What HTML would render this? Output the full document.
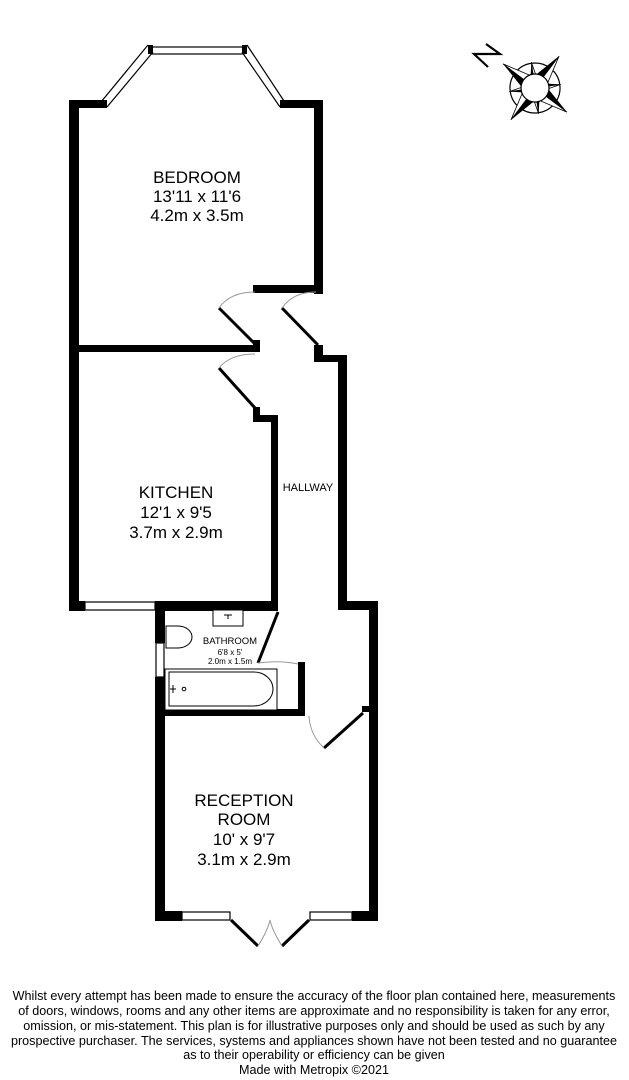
<!DOCTYPE html>
<html><head><meta charset="utf-8"><style>
html,body{margin:0;padding:0;background:#fff;}
svg{display:block}
text{font-family:"Liberation Sans",Arial,sans-serif;fill:#000}
</style></head><body>
<svg width="629" height="1080" viewBox="0 0 629 1080" xmlns="http://www.w3.org/2000/svg">
<defs>
<g id="pt"><polygon points="40,0 0,0 8,-8" fill="#000"/><polygon points="40,0 0,0 8,8" fill="#fff" stroke="#000" stroke-width="0.8"/></g>
<g id="sp"><polygon points="26,0 0,0 6,-4" fill="#000"/><polygon points="26,0 0,0 6,4" fill="#fff" stroke="#000" stroke-width="0.8"/></g>
</defs>
<g fill="#000">
<rect x="69" y="100" width="10" height="510"/>
<rect x="69" y="100" width="35" height="8"/>
<rect x="284" y="100" width="39" height="8"/>
<rect x="314" y="100" width="9" height="194"/>
<rect x="253" y="285" width="70" height="8"/>
<rect x="69" y="345" width="190" height="7"/>
<rect x="253" y="340" width="7" height="12"/>
<rect x="314" y="345" width="9" height="17"/>
<rect x="314" y="355" width="33" height="7"/>
<rect x="338" y="355" width="9" height="255"/>
<rect x="338" y="601" width="40" height="9"/>
<rect x="369" y="601" width="9" height="105"/>
<rect x="362" y="706" width="16" height="6"/>
<rect x="369" y="706" width="9" height="214"/>
<rect x="253" y="407" width="7" height="15"/>
<rect x="253" y="415" width="25" height="7"/>
<rect x="271" y="415" width="7" height="195"/>
<rect x="69" y="601" width="16" height="10"/>
<rect x="155" y="601" width="123" height="10"/>
<rect x="155" y="601" width="10" height="42"/>
<rect x="155" y="677" width="10" height="243"/>
<rect x="157" y="709" width="148" height="7"/>
<rect x="298" y="662" width="7" height="54"/>
<rect x="155" y="911" width="27" height="10"/>
<rect x="352" y="911" width="26" height="10"/>
</g>
<g fill="#fff" stroke="#000" stroke-width="1.2">
<rect x="85" y="602" width="70" height="8"/>
<rect x="156" y="643" width="8" height="34"/>
<rect x="182" y="912" width="48" height="8"/>
<rect x="310" y="912" width="42" height="8"/>
<rect x="152" y="47" width="92" height="7"/>
</g>
<g stroke="#000" stroke-width="1.2" fill="none">
<line x1="101" y1="102" x2="148" y2="45"/>
<line x1="107" y1="107" x2="153" y2="52"/>
<line x1="247" y1="45" x2="284" y2="101"/>
<line x1="242" y1="52" x2="280" y2="107"/>
</g>
<g fill="#000"><rect x="148" y="45" width="5" height="9"/><rect x="242" y="45" width="5" height="9"/><rect x="100" y="100" width="7" height="8"/><rect x="280" y="100" width="7" height="8"/></g>
<g stroke="#000" stroke-width="3" fill="none">
<line x1="219" y1="308" x2="255" y2="344"/>
<line x1="282" y1="308" x2="318" y2="345"/>
<line x1="219" y1="368" x2="255" y2="408"/>
<line x1="278" y1="612" x2="258" y2="663"/>
<line x1="363" y1="713" x2="324" y2="748"/>
<line x1="231" y1="920" x2="258" y2="946"/>
<line x1="309" y1="920" x2="282" y2="946"/>
</g>
<g stroke="#999" stroke-width="1" fill="none">
<path d="M219 308 Q230 292 255 292"/>
<path d="M282 308 Q293 292 316 292"/>
<path d="M219 368 Q230 354 255 354"/>
<path d="M258 663 Q280 660 298 664"/>
<path d="M324 748 Q310 735 309 716"/>
<path d="M258 946 Q268 930 270 920 Q272 930 282 946"/>
</g>
<g stroke="#000" stroke-width="1" fill="#fff">
<rect x="213" y="610" width="30" height="16"/>
<path d="M224 615 h8 M228 615 v4"/>
<path d="M166 626 h12 a14 11 0 1 1 0 22 h-12 z"/>
<rect x="165" y="669" width="112" height="41"/>
<path d="M169 672 h85 a19 17 0 0 1 0 34 h-85 z"/>
<circle cx="184" cy="689" r="1.8"/>
<path d="M170 689 h6 M173 685 v8"/>
</g>
<g transform="translate(535,88) rotate(-8)">
<circle r="25" fill="#fff" stroke="#000" stroke-width="1.2"/>
<use href="#sp" transform="rotate(0)"/><use href="#sp" transform="rotate(90)"/><use href="#sp" transform="rotate(180)"/><use href="#sp" transform="rotate(270)"/>
<use href="#pt" transform="rotate(-135)"/><use href="#pt" transform="rotate(-45)"/><use href="#pt" transform="rotate(45)"/><use href="#pt" transform="rotate(135)"/>
<circle r="14" fill="#fff" stroke="#000" stroke-width="1.2"/>
</g>
<g stroke="#000" stroke-width="2.2" fill="none"><path d="M486 44 L500 54 L474 54 L488 67"/></g>
<g text-anchor="middle" font-size="17">
<text x="197" y="183">BEDROOM</text><text x="197" y="202">13'11 x 11'6</text><text x="197" y="221">4.2m x 3.5m</text>
<text x="176" y="498">KITCHEN</text><text x="176" y="518">12'1 x 9'5</text><text x="176" y="538">3.7m x 2.9m</text>
<text x="244" y="806">RECEPTION</text><text x="244" y="825">ROOM</text><text x="244" y="845">10' x 9'7</text><text x="244" y="865">3.1m x 2.9m</text>
</g>
<text x="308" y="491" font-size="11" text-anchor="middle">HALLWAY</text>
<g text-anchor="middle"><text x="230" y="644" font-size="9.5">BATHROOM</text><text x="230" y="655" font-size="8">6'8 x 5'</text><text x="230" y="664" font-size="8">2.0m x 1.5m</text></g>
<g text-anchor="middle" font-size="12.6">
<text x="314" y="1000">Whilst every attempt has been made to ensure the accuracy of the floor plan contained here, measurements</text>
<text x="314" y="1015">of doors, windows, rooms and any other items are approximate and no responsibility is taken for any error,</text>
<text x="314" y="1030">omission, or mis-statement. This plan is for illustrative purposes only and should be used as such by any</text>
<text x="314" y="1045">prospective purchaser. The services, systems and appliances shown have not been tested and no guarantee</text>
<text x="314" y="1059">as to their operability or efficiency can be given</text>
<text x="314" y="1074">Made with Metropix ©2021</text>
</g>
</svg>
</body></html>
